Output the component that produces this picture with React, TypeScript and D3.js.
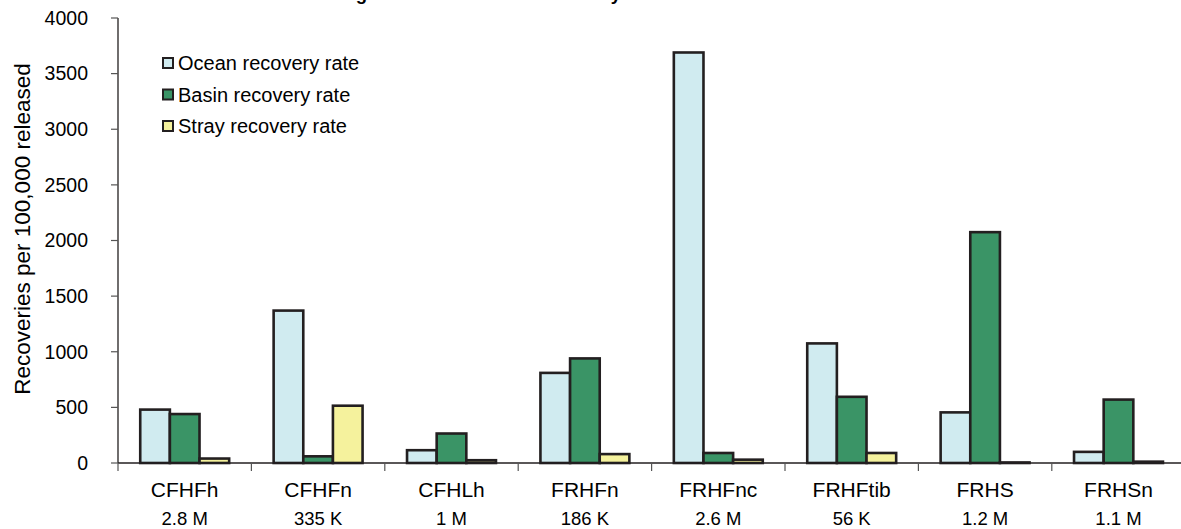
import React from "react";
import * as d3 from "d3";

const categories = ["CFHFh", "CFHFn", "CFHLh", "FRHFn", "FRHFnc", "FRHFtib", "FRHS", "FRHSn"];
const releaseSizes = ["2.8 M", "335 K", "1 M", "186 K", "2.6 M", "56 K", "1.2 M", "1.1 M"];
const seriesNames = ["Ocean recovery rate", "Basin recovery rate", "Stray recovery rate"];
const oceanRate = [480, 1370, 115, 810, 3690, 1075, 455, 100];
const basinRate = [440, 60, 265, 940, 90, 595, 2075, 570];
const strayRate = [40, 515, 25, 80, 30, 90, 5, 12];
const yTicks = [0, 500, 1000, 1500, 2000, 2500, 3000, 3500, 4000];
const colors = ["#d0ebf0", "#3a9466", "#f5f29d"];
const titleText = "Average Ocean and Basin Recovery Rates";
const yAxisTitle = "Recoveries per 100,000 released";

const W = 1181;
const H = 529;
const FONT = "'Liberation Sans', Arial, sans-serif";
const DARK = "#231f20";

export default function App() {
  const left = 118;
  const step = 133.4;
  const y = d3.scaleLinear().domain([0, 4000]).range([463, 18]);
  const x0 = d3.scaleBand<string>().domain(categories).range([left, left + step * categories.length]);
  const bw = x0.bandwidth();
  const x1 = d3.scaleBand<number>().domain([0, 1, 2]).range([bw / 6, (bw * 5) / 6]);
  const series = [oceanRate, basinRate, strayRate];
  const baseY = y(0);

  return (
    <svg
      width={W}
      height={H}
      style={{ position: "fixed", left: 0, top: 0, background: "#fff" }}
      fontFamily={FONT}
    >
      <rect x={0} y={0} width={W} height={H} fill="#fff" />
      {/* title (cropped above the frame, as in the source picture) */}
      <text x={305} y={0} fontSize={18.5} fontWeight="bold" fill="#000">
        {titleText}
      </text>

      {/* y axis */}
      <line x1={left} x2={left} y1={y(4000)} y2={baseY} stroke={DARK} strokeWidth={1.3} />
      {yTicks.map((t) => (
        <g key={t}>
          <line x1={left - 7} x2={left} y1={y(t)} y2={y(t)} stroke="#555" strokeWidth={1.2} />
          <text x={88} y={y(t)} dy="0.35em" textAnchor="end" fontSize={19.5} fill="#000">
            {t}
          </text>
        </g>
      ))}
      <text
        transform={`translate(30, 229) rotate(-90)`}
        textAnchor="middle"
        fontSize={22.5}
        fill="#000"
      >
        {yAxisTitle}
      </text>

      {/* bars */}
      {categories.map((c, i) => (
        <g key={c} transform={`translate(${x0(c)},0)`}>
          {series.map((s, k) => (
            <rect
              key={k}
              x={x1(k)}
              width={x1.bandwidth()}
              y={y(s[i])}
              height={baseY - y(s[i])}
              fill={colors[k]}
              stroke={DARK}
              strokeWidth={2.6}
            />
          ))}
        </g>
      ))}

      {/* x axis */}
      <line x1={left} x2={W} y1={baseY} y2={baseY} stroke={DARK} strokeWidth={1.3} />
      {categories.map((c) => (
        <line key={c} x1={x0(c)} x2={x0(c)} y1={baseY} y2={baseY + 8} stroke="#555" strokeWidth={1.2} />
      ))}
      {categories.map((c, i) => (
        <g key={c}>
          <text x={(x0(c) as number) + bw / 2} y={497} textAnchor="middle" fontSize={21} fill="#000">
            {c}
          </text>
          <text x={(x0(c) as number) + bw / 2} y={525} textAnchor="middle" fontSize={18.5} fill="#000">
            {releaseSizes[i]}
          </text>
        </g>
      ))}

      {/* legend */}
      {seriesNames.map((n, k) => {
        const cy = 63 + k * 31.5;
        return (
          <g key={n}>
            <rect x={163} y={cy - 5} width={10} height={10} fill={colors[k]} stroke={DARK} strokeWidth={2} />
            <text x={178} y={cy} dy="0.35em" fontSize={20} fill="#000">
              {n}
            </text>
          </g>
        );
      })}
    </svg>
  );
}
